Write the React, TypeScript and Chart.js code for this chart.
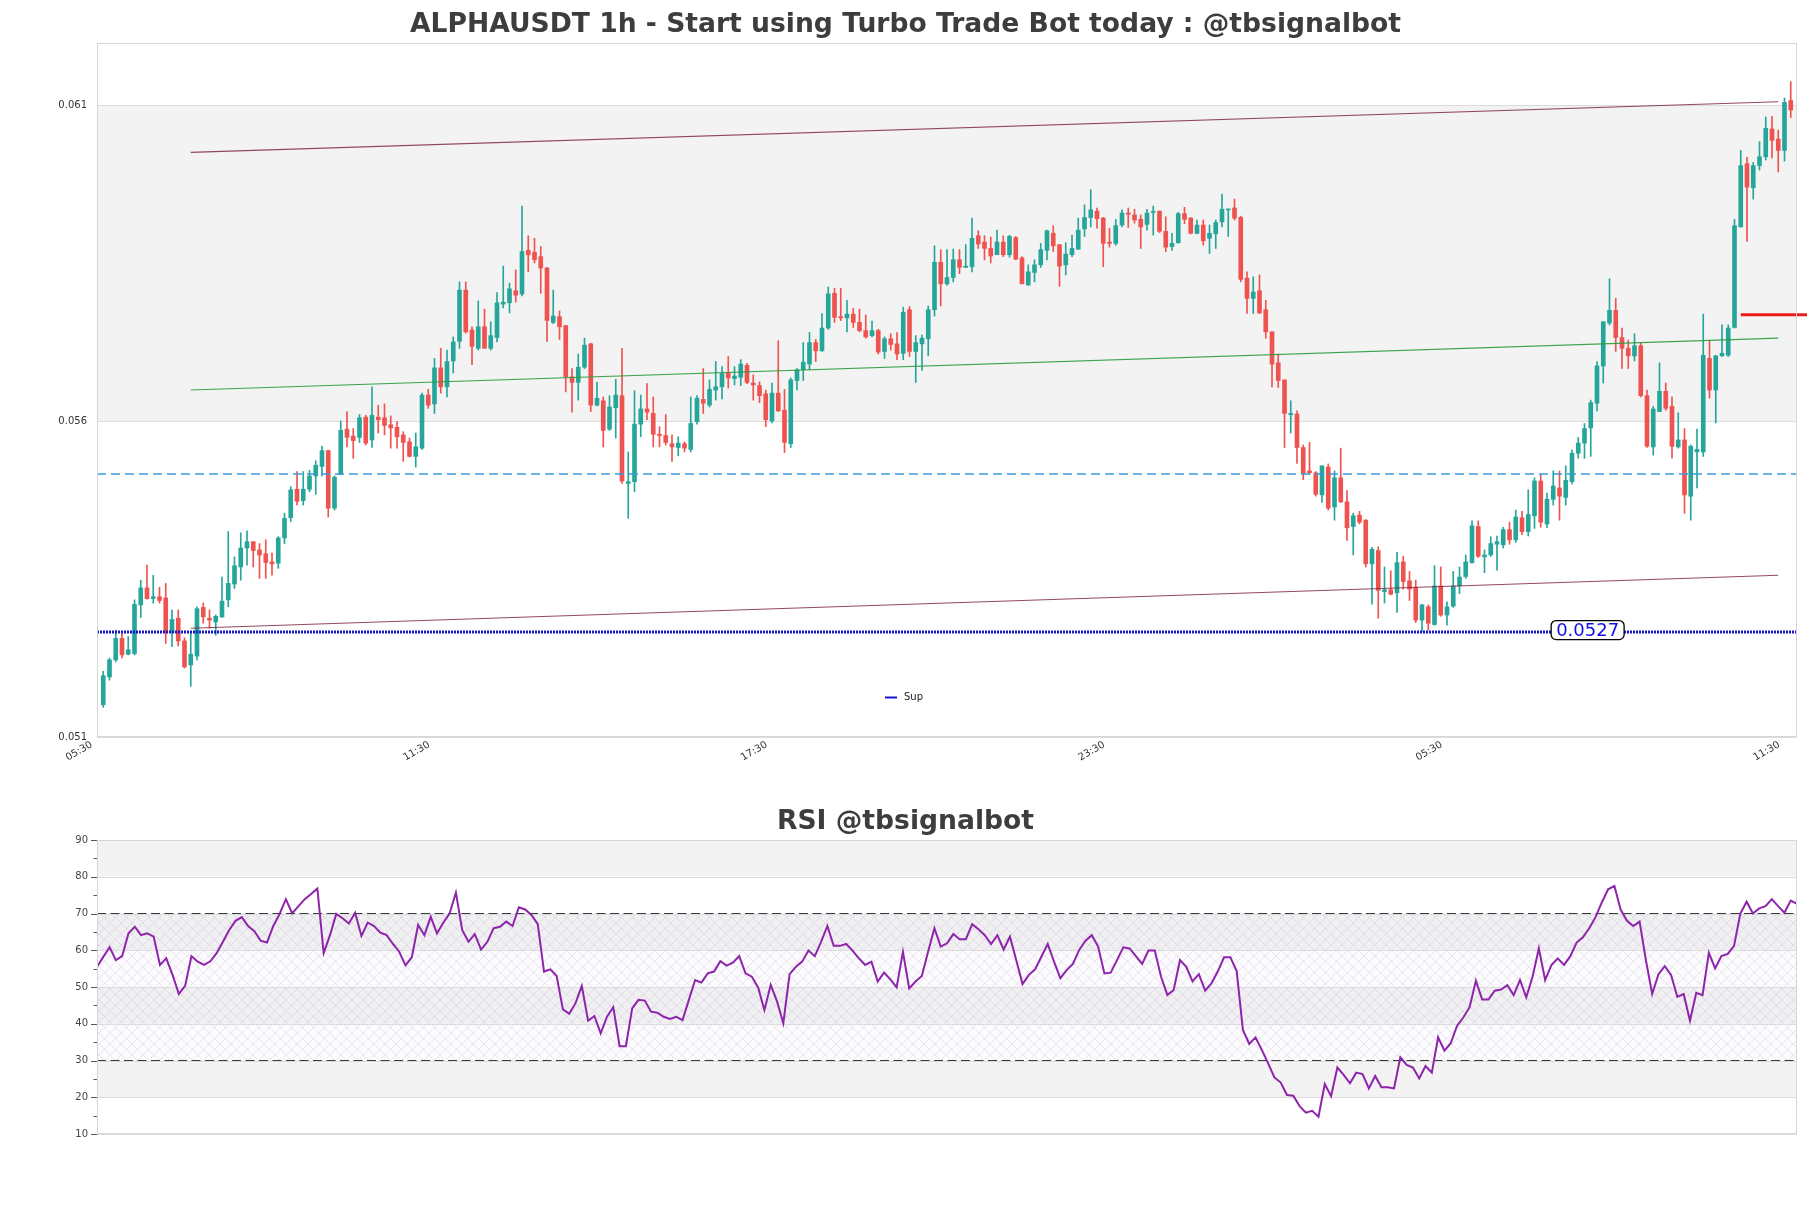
import React, { useEffect, useRef } from "react";
import { Chart, registerables } from "chart.js";

Chart.register(...registerables);

// ---------------- DATA ----------------
const opens = [
  0.05151,0.05195,0.05222,0.05256,0.05231,0.05232,0.05309,0.05336,0.05319,0.05322,
  0.05320,0.05266,0.05288,0.05252,0.05214,0.05228,0.05305,0.05288,0.05282,0.05290,
  0.05317,0.05342,0.05369,0.05399,0.05409,0.05396,0.05390,0.05377,0.05375,0.05415,
  0.05447,0.05492,0.05474,0.05492,0.05513,0.05528,0.05553,0.05462,0.05516,0.05587,
  0.05576,0.05574,0.05606,0.05570,0.05606,0.05605,0.05594,0.05590,0.05578,0.05567,
  0.05544,0.05557,0.05641,0.05627,0.05684,0.05654,0.05695,0.05726,0.05807,0.05744,
  0.05715,0.05749,0.05715,0.05732,0.05785,0.05787,0.05806,0.05801,0.05870,0.05867,
  0.05860,0.05842,0.05756,0.05765,0.05751,0.05670,0.05661,0.05685,0.05722,0.05625,
  0.05632,0.05587,0.05621,0.05640,0.05501,0.05504,0.05595,0.05619,0.05612,0.05579,
  0.05577,0.05564,0.05558,0.05564,0.05555,0.05599,0.05634,0.05625,0.05649,0.05654,
  0.05676,0.05667,0.05669,0.05688,0.05660,0.05656,0.05643,0.05600,0.05644,0.05617,
  0.05564,0.05664,0.05681,0.05690,0.05724,0.05711,0.05747,0.05802,0.05765,0.05763,
  0.05769,0.05756,0.05743,0.05735,0.05743,0.05710,0.05730,0.05722,0.05707,0.05776,
  0.05710,0.05722,0.05730,0.05776,0.05851,0.05817,0.05827,0.05855,0.05843,0.05844,
  0.05893,0.05883,0.05873,0.05863,0.05883,0.05863,0.05890,0.05858,0.05815,0.05835,
  0.05847,0.05870,0.05897,0.05879,0.05847,0.05863,0.05872,0.05904,0.05922,0.05932,
  0.05921,0.05883,0.05881,0.05910,0.05929,0.05926,0.05919,0.05911,0.05930,0.05932,
  0.05900,0.05876,0.05882,0.05928,0.05921,0.05897,0.05910,0.05889,0.05896,0.05915,
  0.05934,0.05937,0.05922,0.05826,0.05794,0.05806,0.05776,0.05741,0.05692,0.05665,
  0.05610,0.05611,0.05558,0.05521,0.05518,0.05483,0.05527,0.05464,0.05510,0.05472,
  0.05433,0.05451,0.05443,0.05374,0.05395,0.05330,0.05333,0.05328,0.05377,0.05347,
  0.05337,0.05285,0.05306,0.05278,0.05339,0.05293,0.05307,0.05339,0.05354,0.05376,
  0.05433,0.05385,0.05388,0.05405,0.05404,0.05428,0.05412,0.05447,0.05425,0.05450,
  0.05505,0.05437,0.05476,0.05494,0.05479,0.05504,0.05549,0.05565,0.05589,0.05628,
  0.05687,0.05755,0.05775,0.05732,0.05715,0.05703,0.05719,0.05640,0.05559,0.05615,
  0.05647,0.05623,0.05559,0.05570,0.05481,0.05551,0.05551,0.05699,0.05649,0.05703,
  0.05704,0.05748,0.05907,0.06007,0.05969,0.06004,0.06018,0.06062,0.06046,0.06028,0.06107,
];
const highs = [
  0.05204,0.05225,0.05269,0.05267,0.05259,0.05317,0.05348,0.05372,0.05356,0.05337,
  0.05343,0.05301,0.05301,0.05257,0.05264,0.05306,0.05312,0.05301,0.05293,0.05353,
  0.05425,0.05385,0.05423,0.05426,0.05409,0.05406,0.05412,0.05391,0.05417,0.05454,
  0.05496,0.05520,0.05520,0.05522,0.05537,0.05560,0.05554,0.05513,0.05600,0.05615,
  0.05588,0.05610,0.05609,0.05654,0.05625,0.05627,0.05608,0.05599,0.05583,0.05573,
  0.05581,0.05644,0.05650,0.05699,0.05715,0.05712,0.05733,0.05820,0.05820,0.05749,
  0.05790,0.05777,0.05757,0.05803,0.05845,0.05818,0.05839,0.05940,0.05893,0.05889,
  0.05876,0.05843,0.05807,0.05774,0.05751,0.05683,0.05706,0.05731,0.05723,0.05661,
  0.05638,0.05640,0.05666,0.05715,0.05551,0.05648,0.05641,0.05659,0.05638,0.05591,
  0.05610,0.05578,0.05575,0.05567,0.05638,0.05640,0.05683,0.05665,0.05694,0.05686,
  0.05702,0.05686,0.05697,0.05691,0.05673,0.05662,0.05649,0.05660,0.05727,0.05650,
  0.05668,0.05683,0.05724,0.05740,0.05729,0.05770,0.05812,0.05810,0.05810,0.05791,
  0.05778,0.05777,0.05768,0.05758,0.05745,0.05733,0.05738,0.05740,0.05780,0.05781,
  0.05735,0.05736,0.05782,0.05877,0.05871,0.05871,0.05872,0.05871,0.05879,0.05921,
  0.05901,0.05893,0.05891,0.05902,0.05893,0.05894,0.05892,0.05860,0.05847,0.05855,
  0.05881,0.05902,0.05909,0.05879,0.05882,0.05894,0.05921,0.05942,0.05966,0.05937,
  0.05922,0.05905,0.05919,0.05934,0.05937,0.05935,0.05926,0.05935,0.05940,0.05932,
  0.05923,0.05897,0.05930,0.05938,0.05922,0.05918,0.05918,0.05910,0.05918,0.05959,
  0.05935,0.05951,0.05924,0.05836,0.05828,0.05831,0.05791,0.05741,0.05706,0.05665,
  0.05632,0.05616,0.05562,0.05566,0.05520,0.05529,0.05532,0.05521,0.05557,0.05490,
  0.05454,0.05457,0.05444,0.05400,0.05401,0.05369,0.05363,0.05392,0.05386,0.05362,
  0.05348,0.05310,0.05309,0.05371,0.05369,0.05314,0.05362,0.05369,0.05388,0.05442,
  0.05442,0.05396,0.05417,0.05418,0.05432,0.05440,0.05459,0.05457,0.05491,0.05510,
  0.05516,0.05486,0.05521,0.05521,0.05529,0.05554,0.05574,0.05596,0.05633,0.05694,
  0.05757,0.05825,0.05794,0.05747,0.05728,0.05738,0.05724,0.05649,0.05623,0.05692,
  0.05660,0.05638,0.05613,0.05588,0.05562,0.05587,0.05769,0.05727,0.05704,0.05752,
  0.05752,0.05919,0.06028,0.06017,0.06009,0.06042,0.06081,0.06082,0.06060,0.06111,0.06137,
];
const lows = [
  0.05147,0.05190,0.05219,0.05225,0.05230,0.05230,0.05289,0.05318,0.05312,0.05312,
  0.05248,0.05243,0.05244,0.05209,0.05180,0.05222,0.05280,0.05272,0.05261,0.05289,
  0.05306,0.05335,0.05348,0.05372,0.05369,0.05351,0.05351,0.05356,0.05367,0.05406,
  0.05441,0.05467,0.05467,0.05488,0.05484,0.05513,0.05448,0.05459,0.05515,0.05559,
  0.05541,0.05566,0.05562,0.05558,0.05581,0.05578,0.05557,0.05557,0.05536,0.05543,
  0.05527,0.05555,0.05620,0.05612,0.05644,0.05638,0.05676,0.05715,0.05739,0.05689,
  0.05712,0.05715,0.05712,0.05725,0.05779,0.05771,0.05788,0.05798,0.05836,0.05850,
  0.05802,0.05726,0.05754,0.05729,0.05646,0.05614,0.05633,0.05683,0.05615,0.05624,
  0.05559,0.05585,0.05573,0.05501,0.05446,0.05488,0.05575,0.05602,0.05559,0.05559,
  0.05562,0.05536,0.05545,0.05551,0.05551,0.05595,0.05612,0.05622,0.05633,0.05635,
  0.05652,0.05657,0.05656,0.05659,0.05633,0.05629,0.05591,0.05597,0.05615,0.05550,
  0.05558,0.05649,0.05664,0.05681,0.05694,0.05710,0.05745,0.05756,0.05759,0.05741,
  0.05748,0.05741,0.05731,0.05733,0.05706,0.05699,0.05712,0.05697,0.05697,0.05702,
  0.05661,0.05680,0.05703,0.05766,0.05782,0.05815,0.05820,0.05833,0.05843,0.05836,
  0.05873,0.05855,0.05850,0.05863,0.05860,0.05859,0.05855,0.05817,0.05815,0.05820,
  0.05843,0.05855,0.05868,0.05813,0.05831,0.05860,0.05871,0.05892,0.05907,0.05905,
  0.05844,0.05875,0.05878,0.05907,0.05906,0.05913,0.05873,0.05902,0.05894,0.05898,
  0.05868,0.05870,0.05881,0.05912,0.05896,0.05896,0.05878,0.05865,0.05873,0.05907,
  0.05892,0.05918,0.05820,0.05770,0.05770,0.05770,0.05731,0.05654,0.05653,0.05558,
  0.05581,0.05533,0.05507,0.05515,0.05481,0.05471,0.05459,0.05443,0.05471,0.05411,
  0.05388,0.05437,0.05369,0.05310,0.05288,0.05312,0.05325,0.05297,0.05334,0.05316,
  0.05281,0.05267,0.05269,0.05277,0.05291,0.05277,0.05305,0.05327,0.05351,0.05375,
  0.05384,0.05360,0.05386,0.05364,0.05399,0.05405,0.05408,0.05420,0.05418,0.05430,
  0.05432,0.05431,0.05467,0.05443,0.05467,0.05500,0.05541,0.05541,0.05544,0.05616,
  0.05660,0.05752,0.05710,0.05683,0.05683,0.05695,0.05638,0.05558,0.05546,0.05615,
  0.05617,0.05541,0.05557,0.05454,0.05443,0.05494,0.05544,0.05636,0.05597,0.05702,
  0.05702,0.05747,0.05907,0.05884,0.05951,0.05997,0.06013,0.06016,0.05994,0.06011,0.06080,
];
const closes = [
  0.05197,0.05222,0.05256,0.05230,0.05238,0.05310,0.05336,0.05319,0.05322,0.05316,
  0.05268,0.05286,0.05252,0.05211,0.05231,0.05303,0.05290,0.05285,0.05291,0.05315,
  0.05343,0.05371,0.05399,0.05409,0.05395,0.05388,0.05376,0.05374,0.05415,0.05446,
  0.05491,0.05473,0.05492,0.05513,0.05530,0.05553,0.05462,0.05511,0.05585,0.05574,
  0.05569,0.05605,0.05565,0.05609,0.05602,0.05593,0.05589,0.05575,0.05566,0.05544,
  0.05559,0.05641,0.05625,0.05684,0.05654,0.05694,0.05725,0.05807,0.05741,0.05718,
  0.05749,0.05715,0.05735,0.05787,0.05788,0.05809,0.05799,0.05868,0.05863,0.05855,
  0.05842,0.05759,0.05766,0.05749,0.05670,0.05661,0.05685,0.05720,0.05625,0.05636,
  0.05585,0.05622,0.05641,0.05505,0.05504,0.05595,0.05619,0.05614,0.05579,0.05577,
  0.05566,0.05559,0.05565,0.05557,0.05596,0.05636,0.05628,0.05650,0.05654,0.05675,
  0.05668,0.05671,0.05690,0.05661,0.05657,0.05640,0.05602,0.05644,0.05616,0.05566,
  0.05665,0.05681,0.05693,0.05724,0.05711,0.05747,0.05801,0.05764,0.05763,0.05769,
  0.05756,0.05743,0.05733,0.05743,0.05709,0.05730,0.05721,0.05706,0.05772,0.05710,
  0.05724,0.05731,0.05776,0.05851,0.05817,0.05827,0.05855,0.05843,0.05845,0.05889,
  0.05880,0.05873,0.05861,0.05883,0.05863,0.05892,0.05856,0.05817,0.05836,0.05847,
  0.05871,0.05901,0.05877,0.05845,0.05864,0.05873,0.05902,0.05922,0.05934,0.05920,
  0.05881,0.05881,0.05909,0.05929,0.05927,0.05918,0.05907,0.05929,0.05931,0.05900,
  0.05875,0.05881,0.05928,0.05919,0.05897,0.05910,0.05885,0.05897,0.05914,0.05935,
  0.05935,0.05921,0.05824,0.05794,0.05804,0.05771,0.05741,0.05690,0.05664,0.05612,
  0.05612,0.05558,0.05517,0.05518,0.05484,0.05529,0.05462,0.05510,0.05472,0.05431,
  0.05450,0.05440,0.05374,0.05397,0.05332,0.05333,0.05326,0.05376,0.05346,0.05334,
  0.05285,0.05309,0.05280,0.05339,0.05293,0.05306,0.05339,0.05353,0.05377,0.05434,
  0.05386,0.05388,0.05406,0.05409,0.05428,0.05412,0.05448,0.05425,0.05452,0.05505,
  0.05440,0.05476,0.05497,0.05481,0.05506,0.05549,0.05565,0.05588,0.05629,0.05687,
  0.05757,0.05775,0.05732,0.05715,0.05703,0.05719,0.05640,0.05560,0.05619,0.05647,
  0.05620,0.05560,0.05570,0.05483,0.05560,0.05555,0.05704,0.05649,0.05703,0.05707,
  0.05747,0.05909,0.06004,0.05970,0.06004,0.06018,0.06063,0.06044,0.06028,0.06104,0.06092,
];
const rsiValues = [
  55.5,58.2,60.8,57.3,58.4,64.6,66.4,64.1,64.6,63.7,
  56.0,57.8,53.3,48.1,50.3,58.4,56.9,56.0,57.0,59.2,
  62.3,65.5,68.0,69.0,66.6,65.2,62.6,62.1,66.6,69.9,
  73.9,70.0,72.0,73.9,75.3,76.8,59.2,64.1,69.9,68.7,
  67.3,70.2,63.9,67.5,66.6,64.8,64.1,61.7,59.6,55.9,
  58.1,66.9,64.1,69.1,64.6,67.5,70.0,75.7,65.5,62.3,
  64.4,60.2,62.3,66.0,66.4,67.8,66.6,71.7,71.1,69.6,
  67.1,54.2,54.8,53.0,43.9,42.7,45.6,50.3,40.8,42.1,
  37.4,41.9,44.5,33.9,33.9,44.2,46.5,46.3,43.3,43.0,
  41.9,41.3,41.9,41.0,46.5,51.9,51.2,53.7,54.2,57.0,
  55.8,56.6,58.4,53.7,52.8,49.9,43.7,50.6,46.1,40.1,
  53.5,55.5,56.9,59.9,58.4,62.3,66.6,61.2,61.2,61.7,
  59.9,57.8,56.0,56.9,51.5,53.9,52.1,49.9,59.6,49.6,
  51.5,53.0,59.6,66.0,61.0,61.9,64.4,63.0,63.0,67.1,
  65.7,64.1,61.7,64.1,60.2,63.7,57.3,50.8,53.3,54.8,
  58.3,61.7,56.9,52.4,54.6,56.3,60.1,62.6,64.1,61.0,
  53.7,53.9,57.3,60.8,60.5,58.4,56.3,59.9,59.9,52.8,
  47.8,49.2,57.3,55.5,51.5,53.5,49.0,51.0,54.2,58.1,
  58.1,54.4,38.3,34.5,36.3,32.9,29.2,25.4,24.0,20.6,
  20.4,17.6,15.8,16.3,14.7,23.6,20.3,28.1,26.1,23.8,
  26.7,26.3,22.4,25.8,22.7,22.7,22.4,30.9,28.8,28.1,
  25.1,28.5,26.7,36.3,32.7,34.7,39.4,41.7,44.5,51.7,
  46.6,46.6,49.0,49.3,50.5,47.8,51.9,47.2,52.8,60.5,
  51.9,56.0,57.8,56.0,58.4,62.1,63.5,66.0,69.0,73.0,
  76.6,77.5,71.0,68.0,66.6,67.8,57.3,48.1,53.5,55.7,
  53.3,47.3,48.1,40.8,48.4,47.8,59.3,55.1,58.4,59.0,
  61.2,70.0,73.2,70.0,71.4,72.0,73.9,72.0,70.2,73.5,72.6,
];

const xTickIndex = [0, 54, 108, 162, 216, 270];
const xTickLabels = ["05:30", "11:30", "17:30", "23:30", "05:30", "11:30"];
const yTickValues = [0.061, 0.056, 0.051];
const yTickLabels = ["0.061", "0.056", "0.051"];
const rsiTickValues = [90, 80, 70, 60, 50, 40, 30, 20, 10];
const rsiMinorTicks = [85, 75, 65, 55, 45, 35, 25, 15];

const channelX = [14, 268];
const upperLine = [0.06025, 0.06105];
const middleLine = [0.05649, 0.05731];
const lowerLine = [0.05272, 0.05356];
const dashedLevel = 0.05516;
const supportLevel = 0.05266;
const supportText = "0.0527";
const supportLabelX = 237.5;
const redLevel = 0.05768;
const redLineX = [262, 272.6];
const rsiOverbought = 70;
const rsiOversold = 30;

const mainTitle = "ALPHAUSDT 1h - Start using Turbo Trade Bot today : @tbsignalbot";
const rsiTitle = "RSI @tbsignalbot";

// ---------------- STYLE ----------------
const FONT = '"DejaVu Sans", "Liberation Sans", sans-serif';
const UP = "#26a69a";
const DOWN = "#ef5350";
const SUP_COLOR = "#1616c8";

function mainConfig(): any {
  const colors = closes.map((c, i) => (c >= opens[i] ? UP : DOWN));
  const full = [-1, 271];
  const decor = {
    id: "mainDecor",
    beforeDatasetsDraw(chart: any) {
      const { ctx, chartArea: a, scales } = chart;
      const y = scales.y;
      ctx.save();
      const y1 = y.getPixelForValue(yTickValues[0]);
      const y2 = y.getPixelForValue(yTickValues[1]);
      ctx.fillStyle = "#f3f3f3";
      ctx.fillRect(a.left, y1, a.right - a.left, y2 - y1);
      ctx.strokeStyle = "#dcdcdc";
      ctx.lineWidth = 1;
      yTickValues.forEach((v) => {
        const py = Math.round(y.getPixelForValue(v)) + 0.5;
        ctx.beginPath();
        ctx.moveTo(a.left, py);
        ctx.lineTo(a.right, py);
        ctx.stroke();
      });
      ctx.restore();
    },
    afterDatasetsDraw(chart: any) {
      const { ctx, chartArea: a, scales } = chart;
      const x = scales.x, y = scales.y;
      ctx.save();
      ctx.strokeStyle = "#d6d6d6";
      ctx.lineWidth = 1;
      ctx.strokeRect(a.left + 0.5, a.top + 0.5, a.right - a.left - 1, a.bottom - a.top - 1);
      // support label box
      ctx.font = `18px ${FONT}`;
      const tw = ctx.measureText(supportText).width;
      const cx = x.getPixelForValue(supportLabelX);
      const cy = y.getPixelForValue(supportLevel) - 2;
      const bw = tw + 10, bh = 19;
      const bx = cx - bw / 2, by = cy - bh / 2;
      ctx.beginPath();
      (ctx as any).roundRect(bx, by, bw, bh, 5);
      ctx.fillStyle = "#ffffff";
      ctx.fill();
      ctx.strokeStyle = "#000000";
      ctx.lineWidth = 1.3;
      ctx.stroke();
      ctx.fillStyle = "#1010e6";
      ctx.textAlign = "center";
      ctx.textBaseline = "middle";
      ctx.fillText(supportText, cx, cy + 1);
      ctx.restore();
    },
    afterDraw(chart: any) {
      const { ctx, chartArea: a, scales } = chart;
      const x = scales.x, y = scales.y;
      ctx.save();
      // title
      ctx.font = `bold 26.6px ${FONT}`;
      ctx.fillStyle = "#3d3d3d";
      ctx.textAlign = "center";
      ctx.textBaseline = "middle";
      ctx.fillText(mainTitle, 905.5, 25);
      // y labels
      ctx.font = `10px ${FONT}`;
      ctx.fillStyle = "#333333";
      ctx.textAlign = "right";
      ctx.textBaseline = "middle";
      yTickValues.forEach((v, i) => {
        ctx.fillText(yTickLabels[i], a.left - 10, y.getPixelForValue(v));
      });
      // x labels (rotated 30 deg)
      ctx.textAlign = "right";
      ctx.textBaseline = "alphabetic";
      xTickIndex.forEach((v, i) => {
        const px = x.getPixelForValue(v);
        ctx.save();
        ctx.translate(px - 10.3, a.bottom + 9.3);
        ctx.rotate(-Math.PI / 6);
        ctx.fillText(xTickLabels[i], 0, 0);
        ctx.restore();
      });
      // legend
      ctx.strokeStyle = SUP_COLOR;
      ctx.lineWidth = 2;
      ctx.beginPath();
      ctx.moveTo(885, 697.5);
      ctx.lineTo(897, 697.5);
      ctx.stroke();
      ctx.fillStyle = "#222222";
      ctx.textAlign = "left";
      ctx.textBaseline = "middle";
      ctx.font = `10px ${FONT}`;
      ctx.fillText("Sup", 904, 697);
      ctx.restore();
    },
  };

  const lineDs = (xs: number[], ys: number[], color: string, width: number, extra: any = {}) => ({
    type: "line",
    data: xs.map((xv, i) => ({ x: xv, y: ys[i] })),
    borderColor: color,
    borderWidth: width,
    pointRadius: 0,
    fill: false,
    tension: 0,
    order: 0,
    ...extra,
  });

  return {
    type: "bar",
    data: {
      datasets: [
        {
          type: "bar",
          label: "wick",
          data: highs.map((h, i) => ({ x: i, y: [lows[i], h] })),
          backgroundColor: colors,
          borderWidth: 0,
          barThickness: 1,
          grouped: false,
          order: 3,
        },
        {
          type: "bar",
          label: "body",
          data: opens.map((o, i) => ({ x: i, y: [o, closes[i]] })),
          backgroundColor: colors,
          borderWidth: 0,
          barThickness: 4,
          minBarLength: 1,
          grouped: false,
          order: 2,
        },
        lineDs(channelX, upperLine, "rgba(128,40,64,0.85)", 1.1),
        lineDs(channelX, middleLine, "rgba(40,155,60,0.9)", 1.1),
        lineDs(channelX, lowerLine, "rgba(128,40,64,0.85)", 1.1),
        lineDs(full, [dashedLevel, dashedLevel], "#3a9ad9", 1.4, { borderDash: [9, 5] }),
        lineDs(full, [supportLevel, supportLevel], SUP_COLOR, 3, { borderDash: [2, 1], label: "Sup" }),
        lineDs(redLineX, [redLevel, redLevel], "#ee1c1c", 3, { clip: false }),
      ],
    },
    options: {
      animation: false,
      responsive: false,
      devicePixelRatio: 1,
      events: [],
      layout: { padding: { left: 97, right: 14, top: 43, bottom: 43 } },
      plugins: { legend: { display: false }, tooltip: { enabled: false }, title: { display: false } },
      scales: {
        x: { type: "linear", min: -1, max: 271, display: false, offset: false },
        y: { type: "linear", min: 0.051, max: 0.06198, display: false, beginAtZero: false },
      },
    },
    plugins: [decor],
  };
}

function rsiConfig(): any {
  const decor = {
    id: "rsiDecor",
    beforeDatasetsDraw(chart: any) {
      const { ctx, chartArea: a, scales } = chart;
      const y = scales.y;
      ctx.save();
      const w = a.right - a.left;
      // gray bands
      ctx.fillStyle = "#f3f3f3";
      [[80, 90], [60, 70], [40, 50], [20, 30]].forEach(([lo, hi]) => {
        const t = y.getPixelForValue(hi), b = y.getPixelForValue(lo);
        ctx.fillRect(a.left, t, w, b - t);
      });
      // hatch between oversold and overbought
      const pc = document.createElement("canvas");
      pc.width = 11;
      pc.height = 11;
      const p = pc.getContext("2d")!;
      p.strokeStyle = "rgba(165,145,185,0.35)";
      p.lineWidth = 0.6;
      p.beginPath();
      p.moveTo(0, 0); p.lineTo(11, 11);
      p.moveTo(11, 0); p.lineTo(0, 11);
      p.stroke();
      const pat = ctx.createPattern(pc, "repeat");
      const t = y.getPixelForValue(rsiOverbought), b = y.getPixelForValue(rsiOversold);
      ctx.fillStyle = "rgba(200,180,220,0.06)";
      ctx.fillRect(a.left, t, w, b - t);
      if (pat) {
        ctx.fillStyle = pat;
        ctx.fillRect(a.left, t, w, b - t);
      }
      // grid
      ctx.strokeStyle = "#dcdcdc";
      ctx.lineWidth = 1;
      rsiTickValues.forEach((v) => {
        const py = Math.round(y.getPixelForValue(v)) + 0.5;
        ctx.beginPath();
        ctx.moveTo(a.left, py);
        ctx.lineTo(a.right, py);
        ctx.stroke();
      });
      ctx.restore();
    },
    afterDraw(chart: any) {
      const { ctx, chartArea: a, scales } = chart;
      const y = scales.y;
      ctx.save();
      ctx.strokeStyle = "#d6d6d6";
      ctx.lineWidth = 1;
      ctx.strokeRect(a.left + 0.5, a.top + 0.5, a.right - a.left - 1, a.bottom - a.top - 1);
      // ticks
      ctx.strokeStyle = "#555555";
      ctx.lineWidth = 1;
      rsiTickValues.forEach((v) => {
        const py = Math.round(y.getPixelForValue(v)) + 0.5;
        ctx.beginPath();
        ctx.moveTo(a.left - 6, py);
        ctx.lineTo(a.left, py);
        ctx.stroke();
      });
      rsiMinorTicks.forEach((v) => {
        const py = Math.round(y.getPixelForValue(v)) + 0.5;
        ctx.beginPath();
        ctx.moveTo(a.left - 3.5, py);
        ctx.lineTo(a.left, py);
        ctx.stroke();
      });
      ctx.font = `10px ${FONT}`;
      ctx.fillStyle = "#444444";
      ctx.textAlign = "right";
      ctx.textBaseline = "middle";
      rsiTickValues.forEach((v) => {
        ctx.fillText(String(v), a.left - 9, y.getPixelForValue(v));
      });
      ctx.font = `bold 26.6px ${FONT}`;
      ctx.fillStyle = "#3d3d3d";
      ctx.textAlign = "center";
      ctx.fillText(rsiTitle, 905.5, 42.5);
      ctx.restore();
    },
  };
  const n = rsiValues.length - 1;
  return {
    type: "line",
    data: {
      datasets: [
        {
          label: "RSI",
          data: rsiValues.map((v, j) => ({ x: j, y: v })),
          borderColor: "#8e24aa",
          borderWidth: 2,
          pointRadius: 0,
          tension: 0,
          order: 0,
        },
        {
          data: [{ x: 0, y: rsiOverbought }, { x: n, y: rsiOverbought }],
          borderColor: "#3a3a3a",
          borderWidth: 1.2,
          borderDash: [9, 4.5],
          pointRadius: 0,
          order: 1,
        },
        {
          data: [{ x: 0, y: rsiOversold }, { x: n, y: rsiOversold }],
          borderColor: "#3a3a3a",
          borderWidth: 1.2,
          borderDash: [9, 4.5],
          pointRadius: 0,
          order: 1,
        },
      ],
    },
    options: {
      animation: false,
      responsive: false,
      devicePixelRatio: 1,
      events: [],
      layout: { padding: { left: 97, right: 14, top: 60, bottom: 74 } },
      plugins: { legend: { display: false }, tooltip: { enabled: false }, title: { display: false } },
      scales: {
        x: { type: "linear", min: 0, max: n, display: false },
        y: { type: "linear", min: 10, max: 90, display: false },
      },
    },
    plugins: [decor],
  };
}

export default function App() {
  const mainRef = useRef<HTMLCanvasElement>(null);
  const rsiRef = useRef<HTMLCanvasElement>(null);
  useEffect(() => {
    const c1 = new Chart(mainRef.current as HTMLCanvasElement, mainConfig());
    const c2 = new Chart(rsiRef.current as HTMLCanvasElement, rsiConfig());
    return () => {
      c1.destroy();
      c2.destroy();
    };
  }, []);
  return (
    <div style={{ position: "absolute", left: 0, top: 0, width: 1811, height: 1208, background: "#ffffff" }}>
      <canvas
        ref={mainRef}
        width={1811}
        height={780}
        style={{ position: "absolute", left: 0, top: 0, width: 1811, height: 780, display: "block" }}
      />
      <canvas
        ref={rsiRef}
        width={1811}
        height={428}
        style={{ position: "absolute", left: 0, top: 780, width: 1811, height: 428, display: "block" }}
      />
    </div>
  );
}
